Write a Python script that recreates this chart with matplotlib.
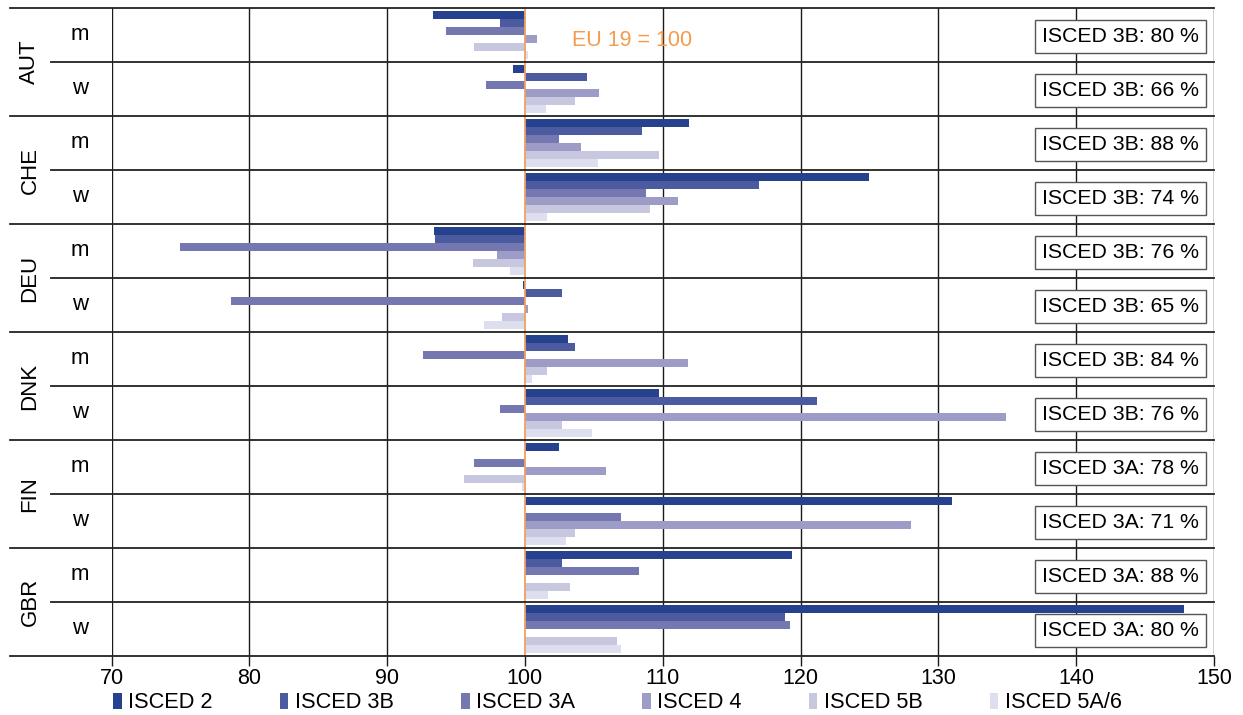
import numpy as np
import matplotlib
matplotlib.use('Agg')
import matplotlib.pyplot as plt
from matplotlib.patches import Patch

plt.rcParams['font.family'] = ['Liberation Sans', 'DejaVu Sans']

# data: rows = AUT m, AUT w, CHE m, CHE w, ... (EU 19 = 100)
countries = ['AUT', 'CHE', 'DEU', 'DNK', 'FIN', 'GBR']
sexes = ['m', 'w']
levels = ['ISCED 2', 'ISCED 3B', 'ISCED 3A', 'ISCED 4', 'ISCED 5B', 'ISCED 5A/6']
nan = np.nan
isced2 = [93.3, 99.1, 111.9, 125.0, 93.4, 99.85, 103.1, 109.7, 102.5, 131.0, 119.4, 147.8]
isced3b = [98.2, 104.5, 108.5, 117.0, 93.5, 102.7, 103.6, 121.2, nan, nan, 102.7, 118.9]
isced3a = [94.3, 97.2, 102.5, 108.8, 75.0, 78.7, 92.6, 98.2, 96.3, 107.0, 108.3, 119.2]
isced4 = [100.9, 105.4, 104.1, 111.1, 98.0, 100.2, 111.8, 134.9, 105.9, 128.0, nan, nan]
isced5b = [96.3, 103.6, 109.7, 109.1, 96.2, 98.3, 101.6, 102.7, 95.6, 103.6, 103.3, 106.7]
isced5a6 = [100.2, 101.5, 105.3, 101.6, 98.9, 97.0, 100.5, 104.9, 99.8, 103.0, 101.7, 107.0]
box_level = ['ISCED 3B'] * 8 + ['ISCED 3A'] * 4
box_pct = [80, 66, 88, 74, 76, 65, 84, 76, 78, 71, 88, 80]

series = [isced2, isced3b, isced3a, isced4, isced5b, isced5a6]
colors = ['#26418D', '#4C5A9F', '#7577B0', '#9D9CC6', '#C7C7DF', '#DEDFEE']

fig = plt.figure(figsize=(12.43, 7.15), dpi=100)
ax = fig.add_axes([111.5 / 1243, 1 - 656 / 715, 1102.5 / 1243, 648 / 715])

ngroups = len(countries) * len(sexes)
bh = 0.148
for j, (vals, c) in enumerate(zip(series, colors)):
    vals = np.array(vals, dtype=float)
    y = np.arange(ngroups) + 0.055 + bh / 2 + j * bh
    ok = ~np.isnan(vals)
    ax.barh(y[ok], vals[ok] - 100, left=100, height=bh, color=c, linewidth=0, zorder=2)

ax.set_xlim(70, 150)
ax.set_ylim(ngroups, 0)
for s in ax.spines.values():
    s.set_visible(False)

# vertical grid
for xv in range(70, 151, 10):
    if xv != 100:
        ax.axvline(xv, color='#1a1a1a', lw=1.0, zorder=1)
ax.axvline(100, color='#F0A060', lw=1.3, zorder=3)

# horizontal separators (extend into label area)
tr = ax.get_yaxis_transform()
for i in range(ngroups + 1):
    x0 = -0.092 if i % 2 == 0 else -0.055
    ax.plot([x0, 1], [i, i], transform=tr, color='#222222', lw=1.3, clip_on=False, zorder=4)

# row labels
for i in range(ngroups):
    ax.text(-0.0286, i + 0.5, sexes[i % 2], transform=tr, ha='center', va='center', fontsize=16)
for k, c in enumerate(countries):
    ax.text(-0.074, 2 * k + 1, c, transform=tr, ha='center', va='center', rotation=90, fontsize=16)

# share boxes
for i in range(ngroups):
    ax.text(143.2, i + 0.52, f'{box_level[i]}: {box_pct[i]} %', ha='center', va='center', fontsize=15.3,
            bbox=dict(boxstyle='square,pad=0.33', fc='white', ec='#555555', lw=1.0), zorder=5)

ax.text(103.4, 0.61, 'EU 19 = 100', color='#F39C4E', fontsize=15.5, ha='left', va='center', zorder=5)

ax.set_xticks(range(70, 151, 10))
ax.set_yticks([])
ax.tick_params(axis='x', length=7, width=1.0, color='#1a1a1a', labelsize=15.5, pad=2)

handles = [Patch(facecolor=c, edgecolor='none') for c in colors]
fig.legend(handles, levels, loc='center left', bbox_to_anchor=(113 / 1243, 1 - 703 / 715), ncol=6,
           frameon=False, fontsize=15.7, handlelength=0.4, handleheight=0.8, handletextpad=0.3,
           columnspacing=3.07, borderpad=0, borderaxespad=0)

fig.savefig('out.png', dpi=100)
